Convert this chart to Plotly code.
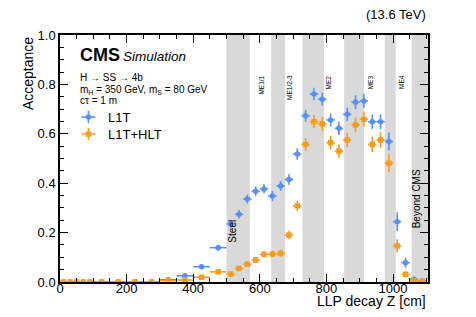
import plotly.graph_objects as go

# ---- data ----
bin_lo = [0, 20, 40, 60, 80, 100, 150, 200, 250, 300, 350, 400, 450,
          500, 525, 550, 575, 600, 625, 650, 675, 700, 725, 750, 775, 800,
          825, 850, 875, 900, 925, 950, 975, 1000, 1025, 1050, 1075]
bin_hi = bin_lo[1:] + [1100]

l1t = [0, 0, 0, 0, 0, 0, 0, 0, 0, 0.009, 0.025, 0.062, 0.139,
       0.235, 0.274, 0.336, 0.367, 0.377, 0.348, 0.389, 0.415, 0.518, 0.673,
       0.761, 0.740, 0.656, 0.622, 0.679, 0.728, 0.733, 0.649, 0.649, 0.569,
       0.244, 0.078, 0.011, 0.004]
l1t_err = [0, 0, 0, 0, 0, 0, 0, 0, 0, 0.004, 0.006, 0.009, 0.012,
           0.016, 0.017, 0.018, 0.019, 0.019, 0.02, 0.02, 0.021, 0.023, 0.024,
           0.025, 0.026, 0.026, 0.027, 0.027, 0.028, 0.028, 0.029, 0.03, 0.036,
           0.038, 0.02, 0.008, 0.004]

l1t_hlt = [0, 0, 0, 0, 0, 0, 0, 0, 0, 0.005, 0.008, 0.019, 0.041,
           0.032, 0.055, 0.072, 0.089, 0.112, 0.113, 0.116, 0.190, 0.308, 0.557,
           0.649, 0.640, 0.564, 0.530, 0.575, 0.636, 0.659, 0.557, 0.575, 0.481,
           0.146, 0.031, 0.005, 0.002]
l1t_hlt_err = [0, 0, 0, 0, 0, 0, 0, 0, 0, 0.003, 0.004, 0.006, 0.008,
               0.008, 0.01, 0.011, 0.012, 0.013, 0.013, 0.014, 0.017, 0.021, 0.026,
               0.027, 0.028, 0.028, 0.028, 0.029, 0.03, 0.03, 0.031, 0.032, 0.036,
               0.027, 0.013, 0.005, 0.003]

band_lo = [500, 634, 728, 853, 975, 1056]
band_hi = [570, 676, 793, 913, 1008, 1110]

region_labels = ["ME1/1", "ME1/2-3", "ME2", "ME3", "ME4"]
region_pos = [606, 691, 805, 931, 1026]

centers = [(a + b) / 2 for a, b in zip(bin_lo, bin_hi)]
half_w = [(b - a) / 2 for a, b in zip(bin_lo, bin_hi)]

BLUE = "#5790fc"
ORANGE = "#f89c20"
FONT = "Liberation Sans, Arial, Helvetica, sans-serif"

PW = 368.5  # plot width px
PH = 247    # plot height px

fig = go.Figure()

for y, e, col, sym in [(l1t, l1t_err, BLUE, "circle"), (l1t_hlt, l1t_hlt_err, ORANGE, "square")]:
    fig.add_trace(go.Scatter(
        x=centers, y=y, mode="markers",
        marker=dict(color=col, size=5.5, symbol=sym),
        error_x=dict(type="data", array=half_w, color=col, thickness=1.6, width=0),
        error_y=dict(type="data", array=e, color=col, thickness=1.6, width=0),
        showlegend=False,
    ))

shapes = []
for a, b in zip(band_lo, band_hi):
    shapes.append(dict(type="rect", xref="x", yref="paper", x0=a, x1=b, y0=0, y1=1,
                       fillcolor="#d9d9d9", line=dict(width=0), layer="below"))

annotations = []
for lab, p in zip(region_labels, region_pos):
    annotations.append(dict(x=p, y=0.845, xref="x", yref="paper", text=lab, showarrow=False,
                            textangle=-90, font=dict(family=FONT, size=6.5, color="black")))
annotations.append(dict(x=517, y=0.15, xref="x", yref="paper", text="Steel", showarrow=False,
                        textangle=-90, font=dict(family=FONT, size=10, color="black")))
annotations.append(dict(x=1071, y=0.21, xref="x", yref="paper", text="Beyond CMS", showarrow=False,
                        textangle=-90, font=dict(family=FONT, size=10, color="black")))

# CMS labels
annotations += [
    dict(x=0.048, y=0.919, xref="paper", yref="paper", xanchor="left", yanchor="middle",
         text="<b>CMS</b>", showarrow=False, font=dict(family=FONT, size=18, color="black")),
    dict(x=0.165, y=0.913, xref="paper", yref="paper", xanchor="left", yanchor="middle",
         text="<i>Simulation</i>", showarrow=False, font=dict(family=FONT, size=13.5, color="black")),
    dict(x=0.05, y=0.826, xref="paper", yref="paper", xanchor="left", yanchor="middle",
         text="H → SS → 4b", showarrow=False, font=dict(family=FONT, size=10, color="black")),
    dict(x=0.05, y=0.777, xref="paper", yref="paper", xanchor="left", yanchor="middle",
         text="m<sub>H</sub> = 350 GeV, m<sub>S</sub> = 80 GeV", showarrow=False,
         font=dict(family=FONT, size=10, color="black")),
    dict(x=0.05, y=0.734, xref="paper", yref="paper", xanchor="left", yanchor="middle",
         text="cτ = 1 m", showarrow=False, font=dict(family=FONT, size=10, color="black")),
    dict(x=1.0, y=1.085, xref="paper", yref="paper", xanchor="right", yanchor="middle",
         text="(13.6 TeV)", showarrow=False, font=dict(family=FONT, size=13, color="black")),
    dict(x=1.0, y=-0.076, xref="paper", yref="paper", xanchor="right", yanchor="middle",
         text="LLP decay Z [cm]", showarrow=False, font=dict(family=FONT, size=14, color="black")),
    dict(x=-0.088, y=1.0, xref="paper", yref="paper", xanchor="center", yanchor="top",
         text="Acceptance", textangle=-90, showarrow=False, font=dict(family=FONT, size=14, color="black")),
]

# manual legend
leg = [("L1T", BLUE, "circle", 0.668), ("L1T+HLT", ORANGE, "square", 0.599)]
for name, col, sym, yy in leg:
    xc = 0.0773
    dx = 7 / PW
    dy = 6 / PH
    shapes.append(dict(type="line", xref="paper", yref="paper", x0=xc - dx, x1=xc + dx, y0=yy, y1=yy,
                       line=dict(color=col, width=1.6)))
    shapes.append(dict(type="line", xref="paper", yref="paper", x0=xc, x1=xc, y0=yy - dy, y1=yy + dy,
                       line=dict(color=col, width=1.6)))
    rx = 2.7 / PW
    ry = 2.7 / PH
    shapes.append(dict(type="circle" if sym == "circle" else "rect", xref="paper", yref="paper",
                       x0=xc - rx, x1=xc + rx, y0=yy - ry, y1=yy + ry,
                       fillcolor=col, line=dict(color=col, width=0)))
    annotations.append(dict(x=0.126, y=yy, xref="paper", yref="paper", xanchor="left", yanchor="middle",
                            text=name, showarrow=False, font=dict(family=FONT, size=13, color="black")))

axis_common = dict(
    showgrid=False, zeroline=False, showline=True, linecolor="black", linewidth=1.5,
    mirror="allticks", ticks="inside", ticklen=8, tickwidth=1, tickcolor="black",
    tickfont=dict(family=FONT, size=13, color="black"),
)

# the page body has an 8px default margin: compensate so the plot lands where the reference has it
fig.update_layout(
    width=468, height=309,
    margin=dict(l=51.5, r=48, t=27, b=35, autoexpand=False),
    paper_bgcolor="white", plot_bgcolor="white",
    shapes=shapes, annotations=annotations,
    showlegend=False,
    xaxis=dict(range=[0, 1105], tickvals=[0, 200, 400, 600, 800, 1000], ticklabelstandoff=-6,
               minor=dict(dtick=50, tick0=0, ticks="inside", ticklen=4, tickcolor="black"),
               **axis_common),
    yaxis=dict(range=[0, 1], tickvals=[0, 0.2, 0.4, 0.6, 0.8, 1.0], tickformat=".1f",
               minor=dict(dtick=0.05, tick0=0, ticks="inside", ticklen=4, tickcolor="black"),
               **axis_common),
)

fig.write_html("out.html")
